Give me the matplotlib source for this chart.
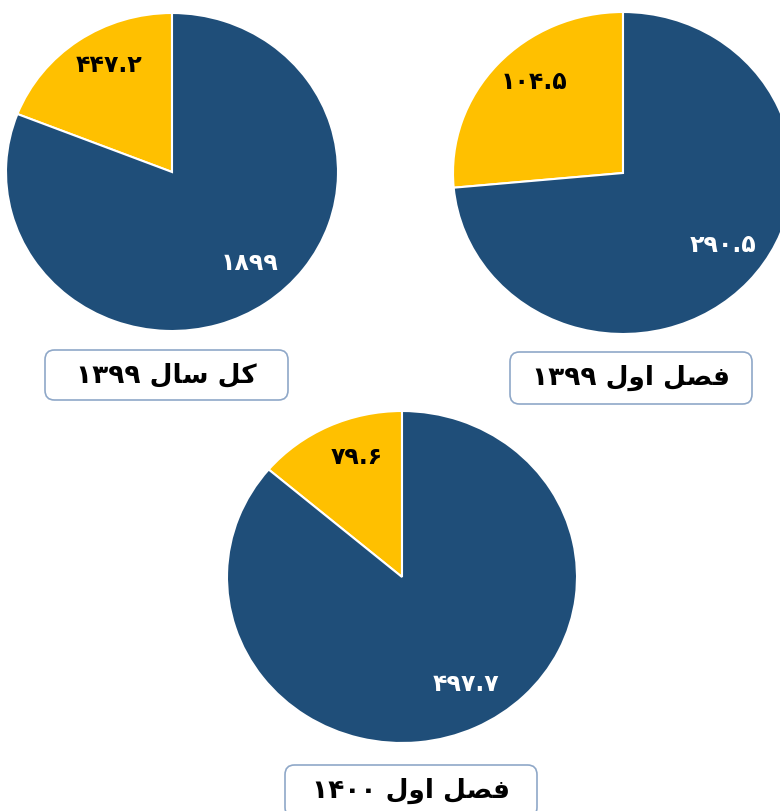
import numpy as np
import matplotlib
matplotlib.use("Agg")
import matplotlib.pyplot as plt
from matplotlib.patches import FancyBboxPatch

# data (values as shown in the chart)
titles = ["کل سال ۱۳۹۹", "فصل اول ۱۳۹۹", "فصل اول ۱۴۰۰"]
small_vals = [447.2, 104.5, 79.6]
large_vals = [1899, 290.5, 497.7]

YELLOW = "#FFC000"
NAVY = "#1F4E79"
W, H = 780, 811

# minimal arabic shaping (matplotlib has no complex text layout)
FORMS = {
    "ا": ("\uFE8D", "\uFE8E", None, None),
    "و": ("\uFEED", "\uFEEE", None, None),
    "ل": ("\uFEDD", "\uFEDE", "\uFEDF", "\uFEE0"),
    "ف": ("\uFED1", "\uFED2", "\uFED3", "\uFED4"),
    "ص": ("\uFEB9", "\uFEBA", "\uFEBB", "\uFEBC"),
    "س": ("\uFEB1", "\uFEB2", "\uFEB3", "\uFEB4"),
    "ک": ("\uFB8E", "\uFB8F", "\uFB90", "\uFB91"),
}


def shape_word(word):
    out = []
    for i, ch in enumerate(word):
        if ch not in FORMS:
            out.append(ch)
            continue
        prev = word[i - 1] if i > 0 else None
        nxt = word[i + 1] if i + 1 < len(word) else None
        jp = prev in FORMS and FORMS[prev][2] is not None
        jn = nxt in FORMS and FORMS[ch][2] is not None
        iso, fin, ini, med = FORMS[ch]
        if jp and jn:
            out.append(med)
        elif jp:
            out.append(fin)
        elif jn:
            out.append(ini)
        else:
            out.append(iso)
    return "".join(reversed(out))


def rtl(text):
    toks = []
    for t in text.split(" "):
        toks.append(t if t[0] in "۰۱۲۳۴۵۶۷۸۹" else shape_word(t))
    return " ".join(reversed(toks))


def fa_num(v):
    s = f"{v:g}"
    return s.translate(str.maketrans("0123456789", "۰۱۲۳۴۵۶۷۸۹"))


fig = plt.figure(figsize=(W / 100, H / 100), dpi=100)

# pie placement in pixels: cx, cy, rx, ry, left clip
pies = [(172, 172, 166, 159, 11), (623, 173, 170, 161, None), (402, 577, 175, 166, None)]
boxes = [(45, 350, 243, 50), (510, 352, 242, 52), (285, 765, 252, 52)]

for k, (cx, cy, rx, ry, clip) in enumerate(pies):
    left = clip if clip is not None else cx - rx
    ax = fig.add_axes([left / W, (H - cy - ry) / H, (cx + rx - left) / W, 2 * ry / H])
    wedges, _ = ax.pie(
        [small_vals[k], large_vals[k]],
        colors=[YELLOW, NAVY],
        startangle=90,
        counterclock=True,
        wedgeprops={"edgecolor": "white", "linewidth": 1.5},
    )
    ax.set_aspect("auto")
    ax.set_xlim(-(cx - left) / rx, 1)
    ax.set_ylim(-1, 1)
    ax.axis("off")
    for w, val, col, d, turn in zip(wedges, [small_vals[k], large_vals[k]],
                                    ["black", "white"], [0.77, 0.74], [-5, 5]):
        mid = np.deg2rad((w.theta1 + w.theta2) / 2 + turn)
        ax.text(d * np.cos(mid), d * np.sin(mid), fa_num(val), color=col,
                fontsize=17, fontweight="bold", ha="center", va="center")

    bx, by, bw, bh = boxes[k]
    fig.patches.append(FancyBboxPatch(
        (bx / W, (H - by - bh) / H), bw / W, bh / H,
        boxstyle="round,pad=0,rounding_size=0.012",
        transform=fig.transFigure, facecolor="white",
        edgecolor="#8FA8C8", linewidth=1.2))
    fig.text((bx + bw / 2) / W, (H - by - bh / 2) / H, rtl(titles[k]),
             fontsize=19, fontweight="bold", ha="center", va="center")

fig.savefig("out.png", dpi=100)
